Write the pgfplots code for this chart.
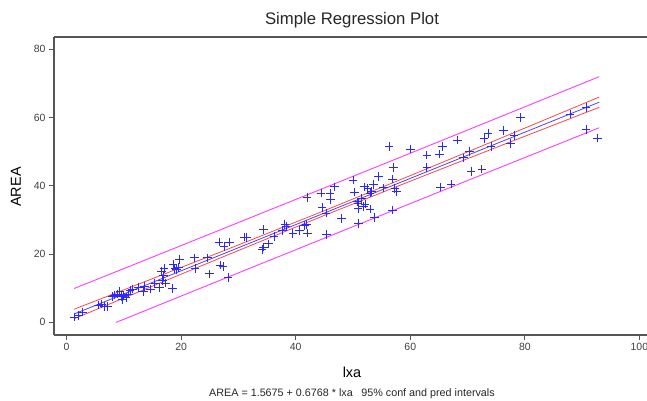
\documentclass[border=0pt]{standalone}
\usepackage{fontspec}
\setmainfont{Liberation Sans}
\usepackage{pgfplots}
\pgfplotsset{compat=1.18}

\definecolor{axisgray}{RGB}{85,85,85}
\definecolor{tickgray}{RGB}{64,64,64}
\definecolor{ptblue}{RGB}{40,40,255}
\definecolor{fitblue}{RGB}{70,70,255}
\definecolor{confred}{RGB}{255,70,70}
\definecolor{predmag}{RGB}{255,60,255}

% plus mark that sets its own stroke colour each time
\pgfdeclareplotmark{blueplus}{%
  \pgfsetstrokecolor{ptblue}%
  \pgfpathmoveto{\pgfqpoint{-\pgfplotmarksize}{0pt}}%
  \pgfpathlineto{\pgfqpoint{\pgfplotmarksize}{0pt}}%
  \pgfpathmoveto{\pgfqpoint{0pt}{-\pgfplotmarksize}}%
  \pgfpathlineto{\pgfqpoint{0pt}{\pgfplotmarksize}}%
  \pgfusepathqstroke}

\begin{document}
\begin{tikzpicture}
\useasboundingbox (0,0) rectangle (647bp,401bp);

\begin{axis}[
  at={(54bp,66bp)}, anchor=south west,
  scale only axis, width=606bp, height=298bp,
  xmin=-2.2, xmax=103.6, ymin=-3.7, ymax=83.6,
  enlargelimits=false,
  axis lines*=left,
  axis line style={axisgray, line width=1.3bp},
  tick align=outside, major tick length=5bp,
  tick style={axisgray, line width=0.8bp},
  xtick={0,20,...,100}, ytick={0,20,...,80},
  /pgf/number format/assume math mode=true,
  ticklabel style={font=\fontsize{10.5}{12}\selectfont, text=tickgray},
]
% 95% prediction interval
\addplot[predmag, line width=0.9bp] coordinates {
  (1.3,9.91) (10,15.76) (20,22.50) (30,29.25) (45,39.39) (60,49.55) (75,59.74) (93,71.99)};
\addplot[predmag, line width=0.9bp] coordinates {
  (8.6,0.0) (10,0.91) (20,7.71) (30,14.50) (45,24.66) (60,34.80) (75,44.92) (93,57.03)};
% 95% confidence interval
\addplot[confred, line width=0.8bp] coordinates {
  (1.3,3.84) (10,9.53) (20,16.09) (30,22.68) (45,32.72) (60,42.99) (75,53.41) (93,66.01)};
\addplot[confred, line width=0.8bp] coordinates {
  (1.3,1.05) (10,7.14) (20,14.12) (30,21.06) (45,31.33) (60,41.36) (75,51.25) (93,63.01)};
% fitted line
\addplot[fitblue, line width=0.8bp] coordinates {(1.3,2.447) (93,64.510)};
% observations
\addplot[only marks, ptblue, mark=blueplus, mark size=4.3bp,
  mark options={line width=0.8bp}] coordinates {
  (1.3,1.6) (2.1,2.0) (2.8,3.0) (5.6,5.1) (6.1,5.4) (6.6,4.7) (7.1,4.6)
  (8.0,7.6) (8.4,8.0) (8.8,8.3) (9.3,9.0) (9.6,7.5) (9.8,6.6) (10.0,8.0)
  (10.4,7.3) (10.8,8.3) (11.1,9.3) (11.5,9.8) (12.5,10.3) (13.4,9.0) (13.6,10.5)
  (14.6,9.8) (15.4,11.3) (16.2,10.3) (16.6,14.9) (17.0,15.8) (16.9,13.7) (16.7,12.3)
  (17.3,11.5) (18.5,10.0) (18.6,16.9) (18.9,15.8) (19.2,15.4) (19.5,16.0) (19.7,18.4)
  (22.3,18.9) (22.4,15.8) (24.6,18.9) (24.9,14.2) (26.6,23.5) (27.5,22.3) (28.4,23.5)
  (26.8,16.8) (27.3,16.3) (28.2,13.1) (31.0,25.0) (31.4,24.9) (34.1,21.4) (34.4,22.1)
  (34.4,27.2) (35.2,23.0) (36.2,25.1) (37.7,27.0) (38.1,28.6) (38.3,28.0) (39.5,26.1)
  (40.7,27.0) (41.5,28.3) (41.9,28.7) (42.1,26.2) (42.0,36.6) (44.4,37.9) (44.6,33.7)
  (45.3,32.0) (45.4,25.8) (46.0,37.8) (46.1,36.0) (46.8,39.7) (48.0,30.5) (50.0,41.7)
  (50.3,38.2) (50.7,35.3) (50.9,34.9) (50.9,33.4) (51.0,28.9) (51.5,36.3) (51.8,33.9)
  (52.0,39.7) (52.1,34.7) (52.6,39.3) (53.0,33.2) (53.0,37.9) (53.3,38.4) (53.6,40.4)
  (53.8,30.8) (54.5,42.7) (55.3,39.4) (56.3,51.5) (56.9,42.0) (56.9,32.9) (57.1,45.4)
  (57.3,39.3) (57.6,38.4) (60.0,50.8) (62.9,49.0) (62.9,45.3) (65.1,49.3) (65.6,51.5)
  (65.3,39.6) (67.1,40.5) (68.2,53.4) (69.3,48.2) (70.3,50.1) (70.6,44.2) (72.5,44.9)
  (72.9,53.8) (73.6,55.4) (74.1,51.5) (76.3,56.2) (77.5,52.4) (78.1,54.8) (79.2,60.1)
  (87.9,61.0) (90.7,62.9) (90.7,56.5) (92.7,54.0)};
\end{axis}

% top frame line (the right side runs off the picture)
\draw[axisgray, line width=1.3bp] (54bp,364bp) -- (660bp,364bp);

\node[font=\fontsize{16.8}{18}\selectfont, text=black!85] at (352bp,381bp) {Simple Regression Plot};
\node[font=\fontsize{14.5}{16}\selectfont, rotate=90] at (16bp,214bp) {AREA};
\node[font=\fontsize{14.5}{16}\selectfont] at (352bp,29bp) {lxa};
\node[font=\fontsize{10.8}{12}\selectfont, text=black!85] at (352bp,7bp)
  {AREA = 1.5675 + 0.6768 * lxa\hspace{0.8em}95\% conf and pred intervals};
\end{tikzpicture}
\end{document}
